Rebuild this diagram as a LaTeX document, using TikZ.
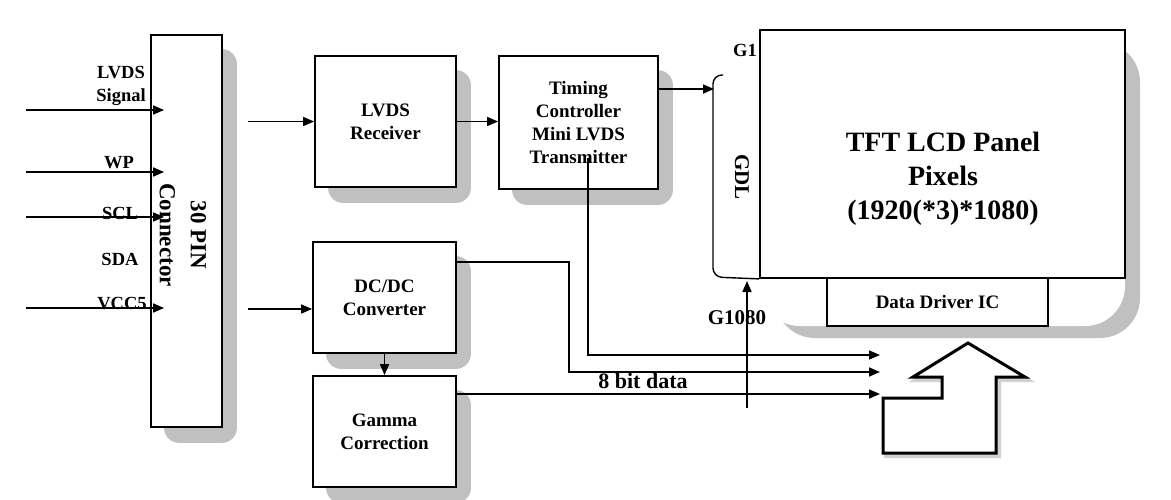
\documentclass[tikz,border=0pt]{standalone}
\usepackage{fontspec}
\setmainfont{Liberation Serif}
\usetikzlibrary{positioning, arrows.meta, calc, backgrounds}
\definecolor{shadowgray}{RGB}{192,192,192}

\begin{document}
\begin{tikzpicture}[
        x=1pt, y=-1pt,
        >={Triangle[length=11pt, width=9pt]},
        font=\bfseries\fontsize{19}{23}\selectfont,
        % Styles for blocks
        block/.style={
            rectangle, draw=black, line width=1.8pt, fill=white,
            align=center, inner sep=0pt
        },
        siglabel/.style={
            font=\bfseries\fontsize{18.5}{23}\selectfont,
            align=center, inner sep=0pt
        },
        % Style for connecting lines
        conn/.style={
            draw=black, line width=1.6pt
        },
        arr/.style={conn, ->},
        boxshadow/.style={fill=shadowgray, rounded corners=15pt}
    ]
    \useasboundingbox (0,0) rectangle (1171,499);

    % 1. PANEL MODULE BACKGROUND
    \fill[shadowgray, rounded corners=40pt] (775,42) rectangle (1140,338);
    \fill[white, rounded corners=40pt] (760,30) rectangle (1125,326);

    % 2. MAIN BLOCKS
    \node[block, minimum width=71pt,  minimum height=392pt] (conn)  at (186.5,231)  {};
    \node[block, minimum width=141pt, minimum height=131pt] (rx)    at (385.5,121.5) {LVDS\\Receiver};
    \node[block, minimum width=159pt, minimum height=133pt] (tcon)  at (578.5,122.5) {Timing\\Controller\\Mini LVDS\\Transmitter};
    \node[block, minimum width=143pt, minimum height=111pt] (dcdc)  at (384.5,297.5) {DC/DC\\Converter};
    \node[block, minimum width=143pt, minimum height=111pt] (gamma) at (384.5,431.5) {Gamma\\Correction};
    \node[block, minimum width=365pt, minimum height=248pt] (panel) at (942.5,154)  {};
    \node[block, minimum width=221pt, minimum height=48pt,
          font=\bfseries\fontsize{19}{22}\selectfont]        (ddic)  at (937.5,302)  {Data Driver IC};

    \node[align=center, font=\bfseries\fontsize{28}{34}\selectfont] (panel_txt) at (943,179)
        {TFT LCD Panel\\Pixels\\(1920(*3)*1080)};
    \node[rotate=-90, align=center, font=\bfseries\fontsize{23}{31}\selectfont] (conn_txt) at (183,235)
        {30 PIN\\Connector};

    % block shadows
    \begin{scope}[on background layer]
        \foreach \n in {conn, rx, tcon, dcdc, gamma}
            \fill[boxshadow] ($(\n.south west)+(14,15)$) rectangle ($(\n.north east)+(14,15)$);
    \end{scope}

    % 3. CONNECTOR INPUTS
    \foreach \yy/\nm in {110/lvds, 172/wp, 217/scl, 308/vcc}{
        \coordinate (\nm_in) at (26,\yy);
        \draw[arr] (\nm_in) -- ($(conn.west |- \nm_in)+(14,0)$);
    }
    \node[siglabel] (lvds_lbl) at (121,85.5) {LVDS\\Signal};
    \node[siglabel] (wp_lbl)   at (119,163)  {WP};
    \node[siglabel] (scl_lbl)  at (120,213)  {SCL};
    \node[siglabel] (sda_lbl)  at (120,259)  {SDA};
    \node[siglabel] (vcc_lbl)  at (122,304)  {VCC5};

    % 4. BLOCK CONNECTIONS
    \draw[arr] ($(conn.east |- rx.west)+(25,0)$) -- (rx.west);
    \draw[arr] (rx.east) -- (tcon.west |- rx.east);
    \draw[arr] ($(conn.east |- 0,309)+(25,0)$) -- (dcdc.west |- 0,309);
    \draw[arr] (dcdc.south) -- (gamma.north);

    % gate driver bracket
    \coordinate (gdl_top) at (714,89);
    \draw[conn, line width=1.4pt, rounded corners=9pt] (723,75) -| (713,277) -- (panel.south west);
    \draw[arr] (tcon.east |- gdl_top) -- (gdl_top);
    \node[siglabel] (g1_lbl) at (745,50) {G1};
    \node[siglabel, rotate=-90, font=\bfseries\fontsize{21}{24}\selectfont] (gdl_lbl) at (742,177) {GDL};

    \coordinate (g1080_in) at (747,408);
    \draw[arr] (g1080_in) -- (747,281);
    \node[siglabel, font=\bfseries\fontsize{21}{24}\selectfont] (g1080_lbl) at (737,318) {G1080};

    % data lines to the driver
    \coordinate (in1) at (880,355);
    \coordinate (in2) at (880,372);
    \coordinate (in3) at (880,394);
    \coordinate (tcon_tap) at (588,158);
    \coordinate (dc_bend) at (569,372);
    \draw[arr] (tcon_tap) |- (in1);
    \draw[arr] ($(dcdc.north east)+(0,21)$) -| (dc_bend) -- (in2);
    \draw[arr] (gamma.east |- in3) -- (in3);
    \node[siglabel, font=\bfseries\fontsize{22}{24}\selectfont] (data_lbl) at (643,381) {8 bit data};

    % 5. BIG ARROW
    \draw[gray!60, line width=4pt, line join=miter, opacity=0.6, shift={(3,3)}]
        (968,343) -- (1025,377) -- (996,377) -- (996,453) -- (883,453) -- (883,398)
        -- (942,398) -- (942,377) -- (913,377) -- cycle;
    \draw[black, line width=3pt, line join=miter, fill=white]
        (968,343) -- (1025,377) -- (996,377) -- (996,453) -- (883,453) -- (883,398)
        -- (942,398) -- (942,377) -- (913,377) -- cycle;

\end{tikzpicture}
\end{document}
